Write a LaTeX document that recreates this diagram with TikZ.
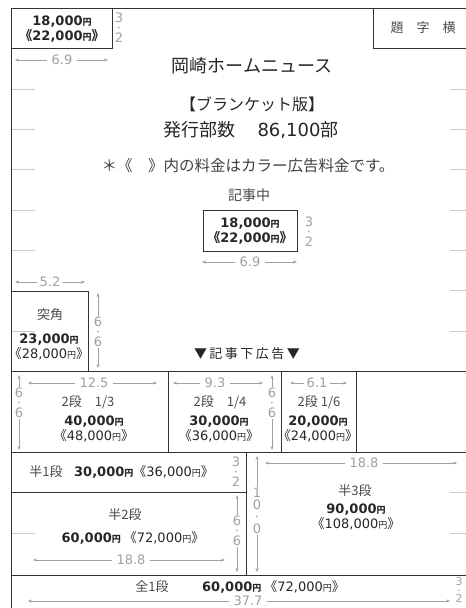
\documentclass[tikz,border=0pt]{standalone}
\usepackage{fontspec}
\setmainfont{Noto Sans CJK JP}
\newfontfamily\numfont{DejaVu Sans}
\usetikzlibrary{arrows.meta}
\definecolor{framec}{HTML}{333333}
\definecolor{dimc}{HTML}{A0A0A0}
\definecolor{tickc}{HTML}{CCCCCC}
\definecolor{labelc}{HTML}{4A4A4A}
\newcommand\amt[1]{{\numfont #1}{\fontsize{9}{9}\selectfont 円}}
\tikzset{
  adbox/.style={draw=framec, line width=0.9pt},
  tickline/.style={draw=tickc, line width=0.7pt},
  dimline/.style={draw=dimc, line width=0.5pt, -{Stealth[length=4pt,width=3pt]}},
  dimtext/.style={text=dimc, font=\numfont\fontsize{13}{13}\selectfont, inner xsep=4pt, inner ysep=0pt},
  vdim/.style={text=dimc, font=\numfont\fontsize{13}{10}\selectfont, align=center, inner sep=1pt},
  price/.style={text=black!85, font=\bfseries\fontsize{13}{15}\selectfont, align=center, inner sep=0pt},
  adname/.style={text=labelc, font=\fontsize{13}{13}\selectfont, inner sep=0pt},
  headline/.style={text=black!85, inner sep=0pt},
}
\begin{document}
\begin{tikzpicture}[x=1pt,y=-1pt]
			%%%%% START %%%%%
			\useasboundingbox (0,0) rectangle (466,608);
			
			% frame and ruled lines
			\draw[adbox] (466,8) -- (11,8) -- (11,608);
			\foreach \yy in {89,129,169,210,250,331,533}
				\draw[tickline] (12,\yy) -- (35,\yy);
			\foreach \yy in {89,129,169,210,250,290,331,492,533}
				\draw[tickline] (450,\yy) -- (466,\yy);
			\draw[adbox] (11,48) -- (112,48) -- (112,8);
			\draw[adbox] (373,8) -- (373,48) -- (466,48);
			\draw[adbox] (203,210) rectangle (297,251);
			\draw[adbox] (11,291) -- (88,291) -- (88,371);
			\draw[adbox] (11,371) -- (466,371);
			\draw[adbox] (168,371) -- (168,452);
			\draw[adbox] (281,371) -- (281,452);
			\draw[adbox] (356,371) -- (356,452);
			\draw[adbox] (11,452) -- (466,452);
			\draw[adbox] (11,492) -- (246,492);
			\draw[adbox] (246,452) -- (246,575);
			\draw[adbox] (11,575) -- (466,575);
			
			% title block
			\node[headline, font=\fontsize{18}{18}\selectfont] (title) at (252,66) {岡崎ホームニュース};
			\node[headline, font=\fontsize{16}{16}\selectfont] (edition) at (252,104) {【ブランケット版】};
			\node[headline, font=\fontsize{18}{18}\selectfont] (circ) at (251,130) {発行部数\hspace{22pt}{\numfont 86,100}部};
			\node[headline, font=\fontsize{15.5}{15.5}\selectfont, text=black!75] (note) at (248,166) {＊《　》内の料金はカラー広告料金です。};
			\node[adname] (daiji) at (423,28) {題\hspace{1em}字\hspace{1em}横};
			
			% top-left corner ad
			\node[price] (p1) at (62,29) {\amt{18,000}\\《\amt{22,000}》};
			\node[vdim] (v1) at (119,28) {3\\·\\2};
			\node[dimtext] (d1) at (62,60) {6.9};
			\coordinate (d1l) at (15,60);
			\coordinate (d1r) at (108,60);
			\draw[dimline] (d1.west) -- (d1l);
			\draw[dimline] (d1.east) -- (d1r);
			
			% in-article ad
			\node[adname, font=\fontsize{14}{14}\selectfont] (kiji) at (249,195) {記事中};
			\node[price] (p2) at (250,231) {\amt{18,000}\\《\amt{22,000}》};
			\node[vdim] (v2) at (309,232) {3\\·\\2};
			\node[dimtext] (d2) at (250,262) {6.9};
			\coordinate (d2l) at (202,262);
			\coordinate (d2r) at (297,262);
			\draw[dimline] (d2.west) -- (d2l);
			\draw[dimline] (d2.east) -- (d2r);
			
			% tsukikado
			\node[dimtext, inner xsep=2pt] (d3) at (50,282) {5.2};
			\coordinate (d3l) at (15,282);
			\coordinate (d3r) at (85,282);
			\draw[dimline] (d3.west) -- (d3l);
			\draw[dimline] (d3.east) -- (d3r);
			\node[adname] (tsuki) at (50,315) {突角};
			\node[price] (p3) at (49,347) {\amt{23,000}\\{\mdseries《\amt{28,000}》}};
			\node[vdim] (v3) at (98,332) {6\\·\\6};
			\coordinate (v3t) at (98,293);
			\coordinate (v3b) at (98,368);
			\draw[dimline] (v3.north) -- (v3t);
			\draw[dimline] (v3.south) -- (v3b);
			
			\node[adname, text=black!85] (kijishita) at (247,354) {▼\hspace{2.5pt}記\hspace{2.5pt}事\hspace{2.5pt}下\hspace{2.5pt}広\hspace{2.5pt}告\hspace{2.5pt}▼};
			
			% two-dan row
			\node[dimtext] (d4) at (94,383) {12.5};
			\coordinate (d4l) at (28,383);
			\coordinate (d4r) at (157,383);
			\draw[dimline] (d4.west) -- (d4l);
			\draw[dimline] (d4.east) -- (d4r);
			\node[vdim] (v4) at (19,403) {6\\·\\6};
			\coordinate (v4t) at (19,375);
			\coordinate (v4b) at (19,450);
			\draw[dimline] (v4.north) -- (v4t);
			\draw[dimline] (v4.south) -- (v4b);
			\node[adname] (nidanA) at (88,402) {2段　1/3};
			\node[price] (p4) at (94,429) {\amt{40,000}\\{\mdseries《\amt{48,000}》}};
			
			\node[dimtext] (d5) at (215,383) {9.3};
			\coordinate (d5l) at (173,383);
			\coordinate (d5r) at (263,383);
			\draw[dimline] (d5.west) -- (d5l);
			\draw[dimline] (d5.east) -- (d5r);
			\node[vdim] (v5) at (272,403) {6\\·\\6};
			\coordinate (v5t) at (272,375);
			\coordinate (v5b) at (272,450);
			\draw[dimline] (v5.north) -- (v5t);
			\draw[dimline] (v5.south) -- (v5b);
			\node[adname] (nidanB) at (220,402) {2段　1/4};
			\node[price] (p5) at (219,429) {\amt{30,000}\\{\mdseries《\amt{36,000}》}};
			
			\node[dimtext, inner xsep=2pt] (d6) at (317,383) {6.1};
			\coordinate (d6l) at (290,383);
			\coordinate (d6r) at (347,383);
			\draw[dimline] (d6.west) -- (d6l);
			\draw[dimline] (d6.east) -- (d6r);
			\node[adname] (nidanC) at (319,402) {2段 1/6};
			\node[price] (p6) at (318,429) {\amt{20,000}\\{\mdseries《\amt{24,000}》}};
			
			% half-page ads
			\node[adname] (han1) at (46,472) {半1段};
			\node[price, anchor=west] (p7) at (74,472) {\amt{30,000}{\mdseries《\amt{36,000}》}};
			\node[vdim] (v7) at (236,472) {3\\·\\2};
			
			\node[adname] (han2) at (125,515) {半2段};
			\node[price] (p8) at (133,538) {\amt{60,000} {\mdseries《\amt{72,000}》}};
			\node[dimtext] (d8) at (131,560) {18.8};
			\coordinate (d8l) at (33,560);
			\coordinate (d8r) at (225,560);
			\draw[dimline] (d8.west) -- (d8l);
			\draw[dimline] (d8.east) -- (d8r);
			\node[vdim] (v8) at (237,531) {6\\·\\6};
			\coordinate (v8t) at (237,495);
			\coordinate (v8b) at (237,572);
			\draw[dimline] (v8.north) -- (v8t);
			\draw[dimline] (v8.south) -- (v8b);
			
			\node[dimtext] (d9) at (364,463) {18.8};
			\coordinate (d9l) at (265,463);
			\coordinate (d9r) at (457,463);
			\draw[dimline] (d9.west) -- (d9l);
			\draw[dimline] (d9.east) -- (d9r);
			\node[vdim, font=\numfont\fontsize{13}{12}\selectfont] (v9) at (257,511) {1\\0\\·\\0};
			\coordinate (v9t) at (257,456);
			\coordinate (v9b) at (257,572);
			\draw[dimline] (v9.north) -- (v9t);
			\draw[dimline] (v9.south) -- (v9b);
			\node[adname] (han3) at (355,491) {半3段};
			\node[price] (p9) at (356,517) {\amt{90,000}\\{\mdseries《\amt{108,000}》}};
			
			% full-width ad
			\node[adname] (zen1) at (152,587) {全1段};
			\node[price, anchor=west] (p10) at (202,587) {\amt{60,000} {\mdseries《\amt{72,000}》}};
			\node[dimtext] (d10) at (248,601) {37.7};
			\coordinate (d10l) at (28,601);
			\coordinate (d10r) at (450,601);
			\draw[dimline] (d10.west) -- (d10l);
			\draw[dimline] (d10.east) -- (d10r);
			\node[vdim, font=\numfont\fontsize{11}{8.5}\selectfont] (v10) at (459,590) {3\\·\\2};
			
			%%%%% END %%%%%
\end{tikzpicture}
\end{document}
